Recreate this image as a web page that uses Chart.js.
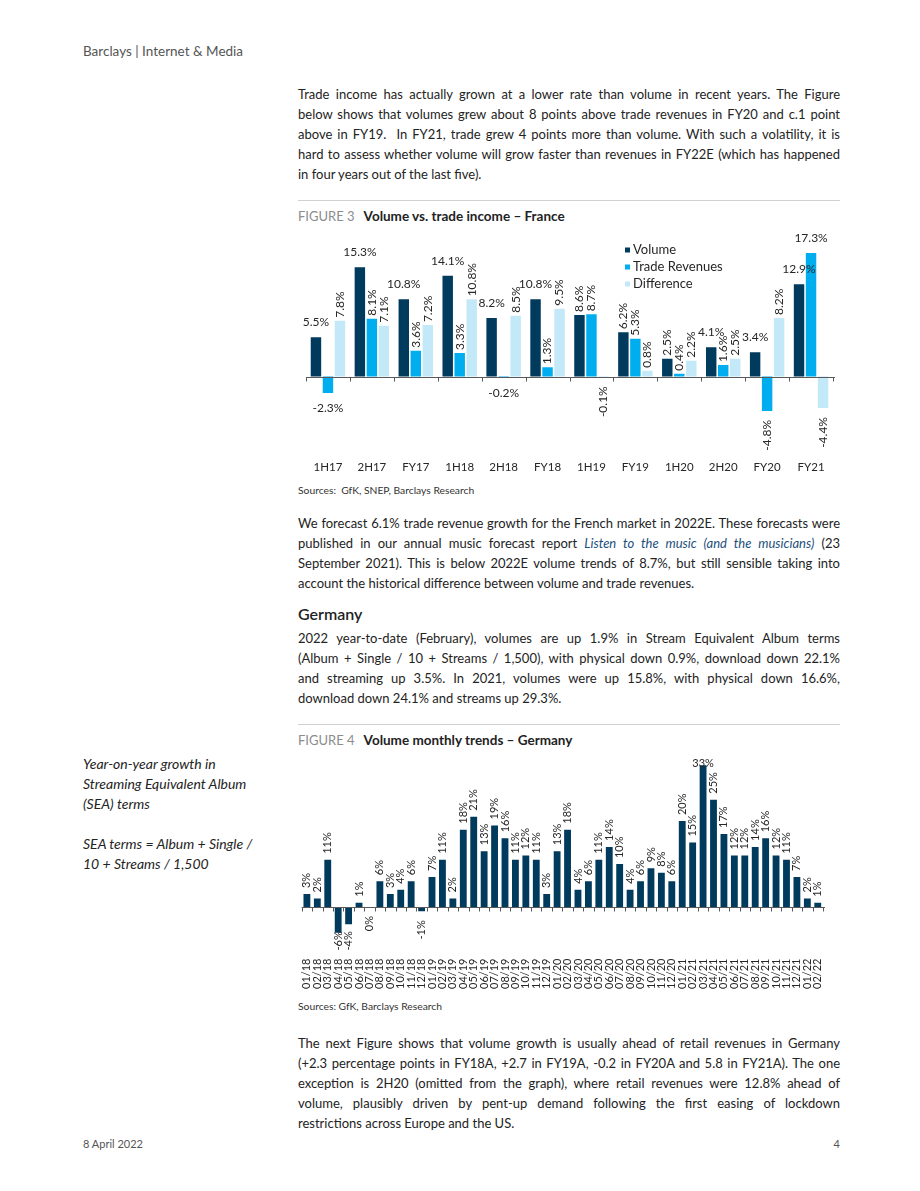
<!DOCTYPE html>
<html>
<head>
<meta charset="utf-8">
<script src="https://cdn.jsdelivr.net/npm/chart.js@4"></script>
<style>
  body { margin: 0; width: 920px; height: 1191px; position: relative; background: #fff;
         font-family: Lato, "Open Sans", sans-serif; color: #232323; overflow: hidden; }
  .abs { position: absolute; }
  .para { left: 298px; width: 542px; font-size: 13px; line-height: 20px; }
  .ln { height: 20px; text-align: justify; text-align-last: justify; }
  .ln.last { text-align-last: left; }
  .rule { left: 298px; width: 542px; height: 0; border-top: 1px solid #d0d0d0; }
  .fig { left: 298px; line-height: 16px; }
  .fig .num { color: #8c8c8c; margin-right: 9px; font-size: 13px; }
  .fig b { color: #222; font-size: 13.5px; }
  .src { left: 298px; font-size: 10.3px; line-height: 12px; color: #333; }
  .side { left: 83px; font-size: 14px; line-height: 20px; font-style: italic; }
  .link { color: #1d4f7c; font-style: italic; }
</style>
</head>
<body>

<div class="abs" style="left:83px;top:43px;font-size:13.5px;color:#555;">Barclays | Internet &amp; Media</div>

<div class="abs para" style="top:84px;">
  <div class="ln">Trade income has actually grown at a lower rate than volume in recent years. The Figure</div>
  <div class="ln">below shows that volumes grew about 8 points above trade revenues in FY20 and c.1 point</div>
  <div class="ln">above in FY19.&nbsp; In FY21, trade grew 4 points more than volume. With such a volatility, it is</div>
  <div class="ln">hard to assess whether volume will grow faster than revenues in FY22E (which has happened</div>
  <div class="ln last">in four years out of the last five).</div>
</div>

<div class="abs rule" style="top:200px;"></div>
<div class="abs fig" style="top:207px;"><span class="num">FIGURE 3</span><b>Volume vs. trade income – France</b></div>

<div class="abs" style="left:298px;top:228px;width:542px;height:256px;">
  <canvas id="fig3"></canvas>
</div>
<div class="abs src" style="top:484px;">Sources:&nbsp; GfK, SNEP, Barclays Research</div>

<div class="abs para" style="top:513px;">
  <div class="ln">We forecast 6.1% trade revenue growth for the French market in 2022E. These forecasts were</div>
  <div class="ln">published in our annual music forecast report <span class="link">Listen to the music (and the musicians)</span> (23</div>
  <div class="ln">September 2021). This is below 2022E volume trends of 8.7%, but still sensible taking into</div>
  <div class="ln last">account the historical difference between volume and trade revenues.</div>
</div>

<div class="abs" style="left:298px;top:604px;font-size:16px;line-height:20px;font-weight:600;color:#222;">Germany</div>

<div class="abs para" style="top:628px;">
  <div class="ln">2022 year-to-date (February), volumes are up 1.9% in Stream Equivalent Album terms</div>
  <div class="ln">(Album + Single / 10 + Streams / 1,500), with physical down 0.9%, download down 22.1%</div>
  <div class="ln">and streaming up 3.5%. In 2021, volumes were up 15.8%, with physical down 16.6%,</div>
  <div class="ln last">download down 24.1% and streams up 29.3%.</div>
</div>

<div class="abs rule" style="top:724px;"></div>
<div class="abs fig" style="top:731px;"><span class="num">FIGURE 4</span><b>Volume monthly trends – Germany</b></div>

<div class="abs side" style="top:754px;">
  Year-on-year growth in<br>Streaming Equivalent Album<br>(SEA) terms<br><br>SEA terms = Album + Single /<br>10 + Streams / 1,500
</div>

<div class="abs" style="left:298px;top:750px;width:542px;height:248px;">
  <canvas id="fig4"></canvas>
</div>
<div class="abs src" style="top:1000px;">Sources: GfK, Barclays Research</div>

<div class="abs para" style="top:1033px;">
  <div class="ln">The next Figure shows that volume growth is usually ahead of retail revenues in Germany</div>
  <div class="ln">(+2.3 percentage points in FY18A, +2.7 in FY19A, -0.2 in FY20A and 5.8 in FY21A). The one</div>
  <div class="ln">exception is 2H20 (omitted from the graph), where retail revenues were 12.8% ahead of</div>
  <div class="ln">volume, plausibly driven by pent-up demand following the first easing of lockdown</div>
  <div class="ln last">restrictions across Europe and the US.</div>
</div>

<div class="abs" style="left:83px;top:1137px;font-size:11px;color:#555;">8 April 2022</div>
<div class="abs" style="left:740px;width:100px;text-align:right;top:1137px;font-size:11px;color:#555;">4</div>

<script>
// Figure 3 - France, half-year / full-year growth (%)
const periods = ['1H17', '2H17', 'FY17', '1H18', '2H18', 'FY18', '1H19', 'FY19', '1H20', '2H20', 'FY20', 'FY21'];
const volume = [5.5, 15.3, 10.8, 14.1, 8.2, 10.8, 8.6, 6.2, 2.5, 4.1, 3.4, 12.9];
const tradeRevenues = [-2.3, 8.1, 3.6, 3.3, -0.2, 1.3, 8.7, 5.3, 0.4, 1.6, -4.8, 17.3];
const difference = [7.8, 7.1, 7.2, 10.8, 8.5, 9.5, -0.1, 0.8, 2.2, 2.5, 8.2, -4.4];

// Figure 4 - Germany, monthly SEA growth (%)
const months = ['01/18', '02/18', '03/18', '04/18', '05/18', '06/18', '07/18', '08/18', '09/18', '10/18', '11/18', '12/18',
                '01/19', '02/19', '03/19', '04/19', '05/19', '06/19', '07/19', '08/19', '09/19', '10/19', '11/19', '12/19',
                '01/20', '02/20', '03/20', '04/20', '05/20', '06/20', '07/20', '08/20', '09/20', '10/20', '11/20', '12/20',
                '01/21', '02/21', '03/21', '04/21', '05/21', '06/21', '07/21', '08/21', '09/21', '10/21', '11/21', '12/21',
                '01/22', '02/22'];
const seaGrowth = [3, 2, 11, -6, -4, 1, 0, 6, 3, 4, 6, -1,
                   7, 11, 2, 18, 21, 13, 19, 16, 11, 12, 11, 3,
                   13, 18, 4, 6, 11, 14, 10, 4, 6, 9, 8, 6,
                   20, 15, 33, 25, 17, 12, 12, 14, 16, 12, 11, 7,
                   2, 1];

const NAVY = '#003a5d', CYAN = '#00aeef', PALE = '#c3e8f8';
const FONT = 'Lato, "Open Sans", sans-serif';

// fit each body line into the column, squeezing letters only when needed
document.querySelectorAll('.ln').forEach(el => {
    el.style.whiteSpace = 'nowrap';
    el.style.display = 'inline-block';
    const w = el.getBoundingClientRect().width;
    el.style.display = '';
    el.style.whiteSpace = '';
    if (w > 541) el.style.letterSpacing = ((541 - w) / el.textContent.length).toFixed(3) + 'px';
});

// zero line with small tick marks between categories
const zeroAxis = {
    id: 'zeroAxis',
    afterDatasetsDraw(chart) {
        const { ctx, chartArea, scales: { x, y } } = chart;
        const y0 = Math.round(y.getPixelForValue(0)) + 0.5;
        const step = x.getPixelForTick(1) - x.getPixelForTick(0);
        ctx.save();
        ctx.strokeStyle = '#595959';
        ctx.lineWidth = 1;
        ctx.beginPath();
        ctx.moveTo(chartArea.left, y0);
        ctx.lineTo(chartArea.right + 2, y0);
        for (let i = 0; i <= x.ticks.length; i++) {
            const px = Math.round(x.getPixelForTick(0) - step / 2 + i * step) + 0.5;
            ctx.moveTo(px, y0);
            ctx.lineTo(px, y0 + 4);
        }
        ctx.stroke();
        ctx.restore();
    }
};

// data labels: rotated by default, horizontal where cfg.flat says so
function barLabels(cfg) {
    return {
        id: 'barLabels',
        afterDatasetsDraw(chart) {
            const ctx = chart.ctx;
            ctx.save();
            ctx.font = cfg.font;
            ctx.fillStyle = '#262626';
            chart.data.datasets.forEach((ds, di) => {
                chart.getDatasetMeta(di).data.forEach((bar, i) => {
                    const v = ds.data[i];
                    const text = cfg.format(v);
                    const w = ctx.measureText(text).width;
                    const neg = v < 0 || (v === 0 && cfg.zeroBelow);
                    const top = Math.min(bar.y, bar.base);
                    const bottom = Math.max(bar.y, bar.base);
                    if (cfg.flat(di, i, top, w)) {
                        ctx.textAlign = 'center';
                        ctx.textBaseline = 'middle';
                        const yy = neg ? bottom + cfg.flatGap : Math.max(cfg.minTop, top - cfg.flatGap);
                        ctx.fillText(text, bar.x, yy);
                    } else {
                        let anchor = neg ? bottom + cfg.negGap : top - cfg.posGap;
                        if (neg) anchor = Math.min(anchor, chart.chartArea.bottom + cfg.bottomRoom - w);
                        ctx.save();
                        ctx.translate(bar.x, anchor);
                        ctx.rotate(-Math.PI / 2);
                        ctx.textAlign = neg ? 'right' : 'left';
                        ctx.textBaseline = 'middle';
                        ctx.fillText(text, 0, 0);
                        ctx.restore();
                    }
                });
            });
            ctx.restore();
        }
    };
}

// legend drawn inside the plot, top right
const innerLegend = {
    id: 'innerLegend',
    afterDraw(chart) {
        const ctx = chart.ctx;
        ctx.save();
        ctx.font = '13px ' + FONT;
        ctx.textBaseline = 'middle';
        chart.data.datasets.forEach((ds, i) => {
            const yy = 22 + i * 17;
            ctx.fillStyle = ds.backgroundColor;
            ctx.fillRect(327, yy - 2.5, 5, 5);
            ctx.fillStyle = '#262626';
            ctx.fillText(ds.label, 335, yy);
        });
        ctx.restore();
    }
};

const flat3 = [
    [true, true, true, true, true, true, false, false, false, true, true, true],
    [true, false, false, false, true, false, false, false, false, false, false, true],
    []
];

new Chart(document.getElementById('fig3'), {
    type: 'bar',
    data: {
        labels: periods,
        datasets: [
            { label: 'Volume', data: volume, backgroundColor: NAVY },
            { label: 'Trade Revenues', data: tradeRevenues, backgroundColor: CYAN },
            { label: 'Difference', data: difference, backgroundColor: PALE }
        ]
    },
    options: {
        responsive: true,
        maintainAspectRatio: false,
        animation: false,
        categoryPercentage: 0.82,
        barPercentage: 0.87,
        layout: { padding: { left: 8, right: 7, top: 2, bottom: 0 } },
        plugins: { legend: { display: false }, tooltip: { enabled: false } },
        scales: {
            y: { display: false, min: -10.3, max: 20.5 },
            x: {
                grid: { display: false, drawTicks: false },
                border: { display: false },
                ticks: { color: '#262626', padding: 10, font: { family: FONT, size: 11.5 } }
            }
        }
    },
    plugins: [zeroAxis, innerLegend, barLabels({
        font: '12px ' + FONT,
        format: v => v.toFixed(1) + '%',
        flat: (di, i) => !!flat3[di][i],
        flatGap: 15, posGap: 3, negGap: 9, bottomRoom: 100, minTop: 8, zeroBelow: false
    })]
});

new Chart(document.getElementById('fig4'), {
    type: 'bar',
    data: {
        labels: months,
        datasets: [{ label: 'SEA growth', data: seaGrowth, backgroundColor: NAVY }]
    },
    options: {
        responsive: true,
        maintainAspectRatio: false,
        animation: false,
        categoryPercentage: 0.8,
        barPercentage: 0.82,
        layout: { padding: { left: 3, right: 4, top: 11, bottom: 0 } },
        plugins: { legend: { display: false }, tooltip: { enabled: false } },
        scales: {
            y: { display: false, min: -9.9, max: 34 },
            x: {
                grid: { display: false, drawTicks: false },
                border: { display: false },
                ticks: {
                    color: '#262626', padding: 9, autoSkip: false, minRotation: 90, maxRotation: 90,
                    font: { family: FONT, size: 11 }
                }
            }
        }
    },
    plugins: [zeroAxis, barLabels({
        font: '11px ' + FONT,
        format: v => v + '%',
        flat: (di, i, top, w) => top - 6 - w < 0,
        flatGap: 2, posGap: 6, negGap: 9, bottomRoom: 1, minTop: 8, zeroBelow: true
    })]
});
</script>
</body>
</html>
